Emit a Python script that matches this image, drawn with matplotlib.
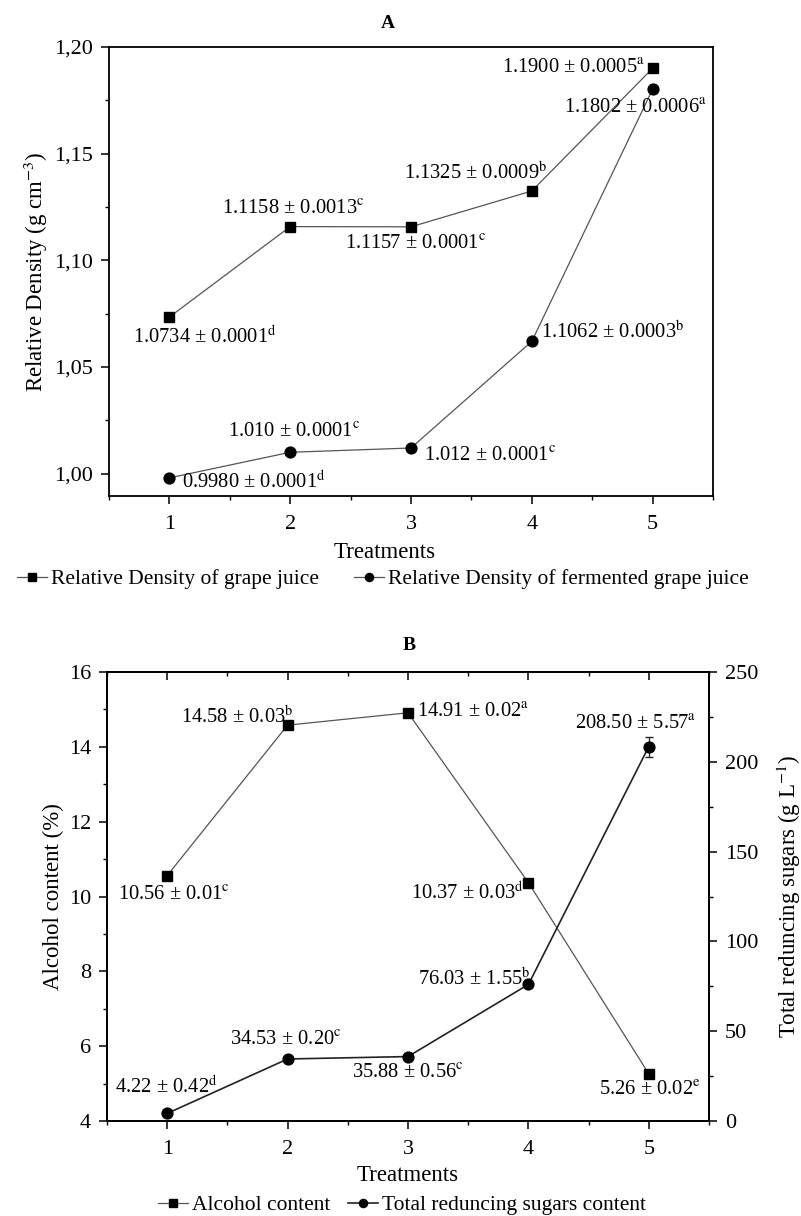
import matplotlib
matplotlib.use('Agg')
import matplotlib.pyplot as plt
from matplotlib.lines import Line2D
from matplotlib.ticker import MultipleLocator, FuncFormatter

plt.rcParams['font.family'] = ['Liberation Serif', 'DejaVu Serif']
plt.rcParams['mathtext.fontset'] = 'stix'

# ---- data ----
treatments = [1, 2, 3, 4, 5]

# panel A
grape_density = [1.0734, 1.1158, 1.1157, 1.1325, 1.1900]
grape_labels = ['1.0734 ± 0.0001', '1.1158 ± 0.0013', '1.1157 ± 0.0001',
                '1.1325 ± 0.0009', '1.1900 ± 0.0005']
grape_letters = ['d', 'c', 'c', 'b', 'a']
ferm_density = [0.9980, 1.010, 1.012, 1.062, 1.1802]
ferm_labels = ['0.9980 ± 0.0001', '1.010 ± 0.0001', '1.012 ± 0.0001',
               '1.1062 ± 0.0003', '1.1802 ± 0.0006']
ferm_letters = ['d', 'c', 'c', 'b', 'a']

# panel B
alcohol = [10.56, 14.58, 14.91, 10.37, 5.26]
alcohol_sd = [0.01, 0.03, 0.02, 0.03, 0.02]
alcohol_letters = ['c', 'b', 'a', 'd', 'e']
sugars = [4.22, 34.53, 35.88, 76.03, 208.50]
sugars_sd = [0.42, 0.20, 0.56, 1.55, 5.57]
sugars_letters = ['d', 'c', 'c', 'b', 'a']

W, H = 801, 1216
fig = plt.figure(figsize=(W / 100, H / 100), dpi=100)

def px_axes(l, t, r, b):
    return fig.add_axes([l / W, 1 - b / H, (r - l) / W, (b - t) / H])

FS = 16        # tick labels
LFS = 16.5     # axis labels
AFS = 14.8     # point notes
GFS = 15.5     # legends
P = 0.72       # px -> pt

def style(ax):
    for s in ax.spines.values():
        s.set_linewidth(1.3)
    ax.tick_params(which='major', length=5.5, width=1.1, labelsize=FS)
    ax.tick_params(which='minor', length=3.2, width=1.0)
    ax.tick_params(axis='x', pad=8)
    ax.tick_params(axis='y', pad=6)
    ax.set_xlim(0.5, 5.5)
    ax.xaxis.set_major_locator(MultipleLocator(1))
    ax.xaxis.set_minor_locator(MultipleLocator(0.5))

def note(ax, x, y, txt, letter, dx, dy, ha='center'):
    ax.annotate(txt + r'$^{\mathrm{' + letter + '}}$', (x, y),
                xytext=(dx * P, dy * P), textcoords='offset points',
                ha=ha, va='center', fontsize=AFS, zorder=5)

# ---------------- panel A ----------------
axA = px_axes(109, 47, 713, 496)
style(axA)
axA.set_ylim(0.9895, 1.20)
axA.yaxis.set_major_locator(MultipleLocator(0.05))
axA.yaxis.set_minor_locator(MultipleLocator(0.025))
axA.yaxis.set_major_formatter(FuncFormatter(lambda v, p: f'{v:.2f}'.replace('.', ',')))

lA1, = axA.plot(treatments, grape_density, '-s', color='#555555', lw=0.9,
                mfc='black', mec='black', ms=7.2, label='Relative Density of grape juice')
lA2, = axA.plot(treatments, ferm_density, '-o', color='#555555', lw=0.9,
                mfc='black', mec='black', ms=7.8, label='Relative Density of fermented grape juice')

offA_grape = [(35, -20, 'center'), (3, 17, 'center'), (5, -18, 'center'),
              (-56, 18, 'center'), (-8, 0, 'right')]
offA_ferm = [(13, -4, 'left'), (4, 20, 'center'), (13, -8, 'left'),
             (9, 10, 'left'), (-17, -19, 'center')]
for i, x in enumerate(treatments):
    dx, dy, ha = offA_grape[i]
    note(axA, x, grape_density[i], grape_labels[i], grape_letters[i], dx, dy, ha)
    dx, dy, ha = offA_ferm[i]
    note(axA, x, ferm_density[i], ferm_labels[i], ferm_letters[i], dx, dy, ha)

axA.set_ylabel('Relative Density (g cm$^{-3}$)', fontsize=LFS)
axA.yaxis.set_label_coords(-0.098, 0.5)
axA.set_xlabel('Treatments', fontsize=LFS)
axA.xaxis.set_label_coords((385 - 109) / 604, -0.102)
fig.text(388 / W, 1 - 23 / H, 'A', ha='center', va='center', fontsize=14, fontweight='bold')
fig.legend(handles=[lA1, lA2], loc='center', bbox_to_anchor=(383 / W, 1 - 579 / H),
           ncol=2, frameon=False, fontsize=GFS, handlelength=1.4, handletextpad=0.2,
           columnspacing=1.6, markerscale=0.75)

# ---------------- panel B ----------------
axB = px_axes(107, 672, 709, 1121)
style(axB)
axB.set_ylim(4, 16)
axB.yaxis.set_major_locator(MultipleLocator(2))
axB.yaxis.set_minor_locator(MultipleLocator(1))

axB2 = axB.twinx()
for s in axB2.spines.values():
    s.set_linewidth(1.3)
axB2.set_ylim(0, 250)
axB2.yaxis.set_major_locator(MultipleLocator(50))
axB2.yaxis.set_minor_locator(MultipleLocator(25))
axB2.tick_params(which='major', length=5.5, width=1.1, labelsize=FS, pad=6)
axB2.tick_params(which='minor', length=3.2, width=1.0)

top = axB.secondary_xaxis('top')
top.xaxis.set_major_locator(MultipleLocator(1))
top.xaxis.set_minor_locator(MultipleLocator(0.5))
top.tick_params(which='major', direction='in', length=5.5, width=1.1, labeltop=False)
top.tick_params(which='minor', direction='in', length=3.2, width=1.0)
top.spines['top'].set_linewidth(1.3)

axB.errorbar(treatments, alcohol, yerr=alcohol_sd, fmt='-s', color='#555555', lw=0.9,
             mfc='black', mec='black', ms=7.2, capsize=3, elinewidth=0.9, zorder=3)
axB2.errorbar(treatments, sugars, yerr=sugars_sd, fmt='-o', color='#222222', lw=1.2,
              mfc='black', mec='black', ms=7.8, capsize=3, elinewidth=0.9, zorder=3)

offB_alc = [(7, -20, 'center'), (6, 8, 'right'), (9, 0, 'left'),
            (-5, -10, 'right'), (1, -17, 'center')]
offB_sug = [(-1, 27, 'center'), (-2, 18, 'center'), (0, -17, 'center'),
            (2, 6, 'right'), (-13, 22, 'center')]
for i, x in enumerate(treatments):
    dx, dy, ha = offB_alc[i]
    note(axB, x, alcohol[i], f'{alcohol[i]:.2f} ± {alcohol_sd[i]:.2f}', alcohol_letters[i], dx, dy, ha)
    dx, dy, ha = offB_sug[i]
    note(axB2, x, sugars[i], f'{sugars[i]:.2f} ± {sugars_sd[i]:.2f}', sugars_letters[i], dx, dy, ha)

axB.set_ylabel('Alcohol content (%)', fontsize=LFS)
axB.yaxis.set_label_coords(-0.071, 0.5)
axB2.set_ylabel('Total reduncing sugars (g L$^{-1}$)', fontsize=LFS)
axB2.yaxis.set_label_coords(1.11, 0.5)
axB.set_xlabel('Treatments', fontsize=LFS)
axB.xaxis.set_label_coords(0.5, -0.097)
fig.text(409 / W, 1 - 645 / H, 'B', ha='center', va='center', fontsize=14, fontweight='bold')

hB1 = Line2D([], [], color='#555555', lw=0.9, marker='s', mfc='black', mec='black', ms=7.2)
hB2 = Line2D([], [], color='#222222', lw=1.2, marker='o', mfc='black', mec='black', ms=7.8)
fig.legend(handles=[hB1, hB2], labels=['Alcohol content', 'Total reduncing sugars content'],
           loc='center', bbox_to_anchor=(402 / W, 1 - 1205 / H),
           ncol=2, frameon=False, fontsize=GFS, handlelength=1.4, handletextpad=0.2,
           columnspacing=0.8, markerscale=0.75)

fig.savefig('out.png', dpi=100)
